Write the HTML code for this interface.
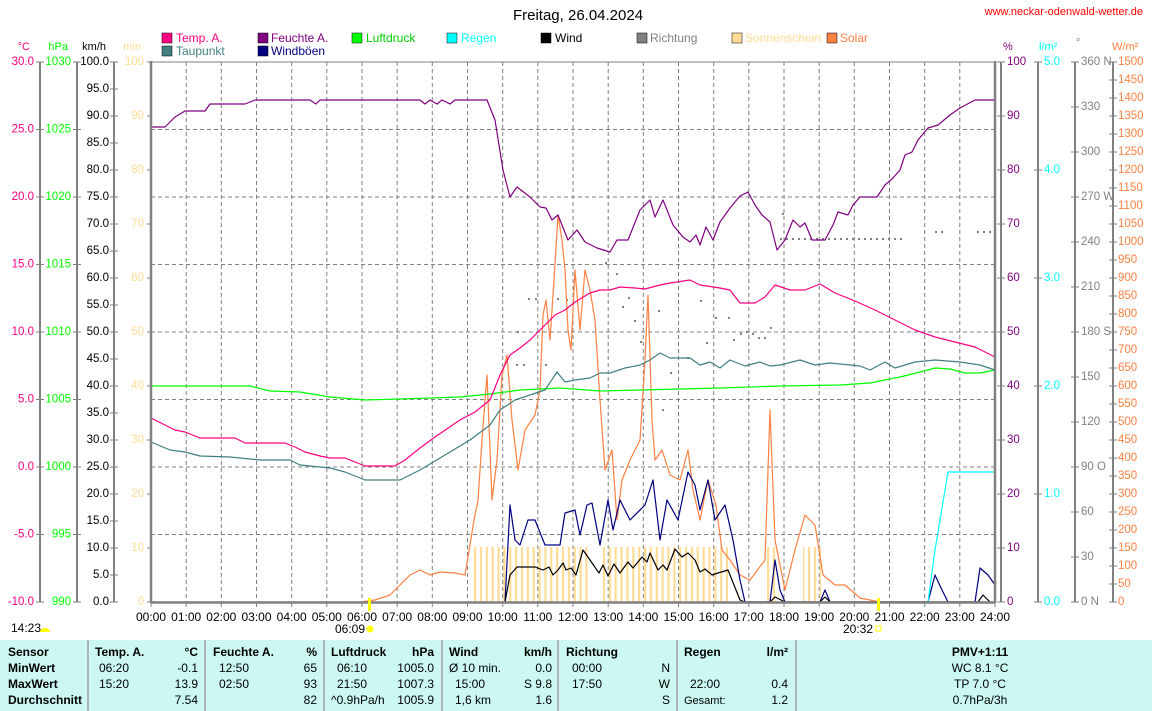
<!DOCTYPE html>
<html><head><meta charset="utf-8"><style>
html,body{margin:0;padding:0;background:#fff;}
svg{display:block;font-family:"Liberation Sans",sans-serif;}
.t{font-size:12px}
</style></head><body>
<svg width="1152" height="711" viewBox="0 0 1152 711" xmlns="http://www.w3.org/2000/svg">
<defs>
<pattern id="sun" patternUnits="userSpaceOnUse" x="474" y="0" width="5.86" height="10"><rect x="0" y="0" width="2.2" height="10" fill="#ffdc96"/></pattern>
</defs>
<text x="578" y="20" font-size="15" text-anchor="middle" fill="#000">Freitag, 26.04.2024</text>
<text x="1143" y="15" font-size="11" text-anchor="end" fill="#ff0000">www.neckar-odenwald-wetter.de</text>

<g class="t" font-size="11">
<rect x="162" y="33" width="10" height="10" fill="#ff0080" stroke="#000" stroke-width="0.5"/><text x="176" y="42" fill="#ff0080">Temp. A.</text>
<rect x="162" y="46" width="10" height="10" fill="#408080" stroke="#000" stroke-width="0.5"/><text x="176" y="55" fill="#408080">Taupunkt</text>
<rect x="258" y="33" width="10" height="10" fill="#800080" stroke="#000" stroke-width="0.5"/><text x="271" y="42" fill="#800080">Feuchte A.</text>
<rect x="258" y="46" width="10" height="10" fill="#000080" stroke="#000" stroke-width="0.5"/><text x="271" y="55" fill="#000080">Windböen</text>
<rect x="352" y="33" width="10" height="10" fill="#00ff00" stroke="#000" stroke-width="0.5"/><text x="366" y="42" fill="#00cc00">Luftdruck</text>
<rect x="447" y="33" width="10" height="10" fill="#00ffff" stroke="#000" stroke-width="0.5"/><text x="461" y="42" fill="#00ffff">Regen</text>
<rect x="541" y="33" width="10" height="10" fill="#000" stroke="#000" stroke-width="0.5"/><text x="555" y="42" fill="#000">Wind</text>
<rect x="637" y="33" width="10" height="10" fill="#808080" stroke="#000" stroke-width="0.5"/><text x="650" y="42" fill="#808080">Richtung</text>
<rect x="732" y="33" width="10" height="10" fill="#ffdc96" stroke="#000" stroke-width="0.5"/><text x="745" y="42" fill="#ffdc96">Sonnenschein</text>
<rect x="827" y="33" width="10" height="10" fill="#ff8040" stroke="#000" stroke-width="0.5"/><text x="840" y="42" fill="#ff8040">Solar</text>
</g>

<g font-size="11">
<text x="30" y="50" text-anchor="end" fill="#ff0080">°C</text>
<text x="68" y="50" text-anchor="end" fill="#00ff00">hPa</text>
<text x="106" y="50" text-anchor="end" fill="#000">km/h</text>
<text x="141" y="50" text-anchor="end" fill="#ffdc96">min</text>
<text x="1003" y="50" fill="#800080">%</text>
<text x="1039" y="50" fill="#00ffff">l/m²</text>
<text x="1076" y="46" fill="#808080">°</text>
<text x="1112" y="50" fill="#ff8040">W/m²</text>
</g>

<g stroke="#808080" stroke-width="1" stroke-dasharray="4,3" fill="none">
<path d="M151 129.5H995M151 197H995M151 264.5H995M151 332H995M151 399.5H995M151 467H995M151 534.5H995"/>
<path d="M186.2 62V602M221.3 62V602M256.5 62V602M291.7 62V602M326.8 62V602M362 62V602M397.2 62V602M432.3 62V602M467.5 62V602M502.7 62V602M537.8 62V602M573 62V602M608.2 62V602M643.3 62V602M678.5 62V602M713.7 62V602M748.8 62V602M784 62V602M819.2 62V602M854.3 62V602M889.5 62V602M924.7 62V602M959.8 62V602"/>
</g>

<rect x="474" y="547" width="114" height="55" fill="url(#sun)"/>
<rect x="603" y="547" width="125" height="55" fill="url(#sun)"/>
<rect x="767" y="547" width="12" height="55" fill="url(#sun)"/>
<rect x="803" y="547" width="18" height="55" fill="url(#sun)"/>

<g fill="#808080">
<rect x="528" y="298" width="2" height="2"/><rect x="535" y="298" width="2" height="2"/><rect x="557" y="298" width="2" height="2"/><rect x="517" y="331" width="2" height="2"/><rect x="516" y="364" width="2" height="2"/><rect x="523" y="364" width="2" height="2"/><rect x="545" y="364" width="2" height="2"/>
<rect x="566" y="299" width="2" height="2"/><rect x="605" y="262" width="2" height="2"/><rect x="616" y="273" width="2" height="2"/><rect x="628" y="297" width="2" height="2"/><rect x="622" y="306" width="2" height="2"/><rect x="634" y="320" width="2" height="2"/><rect x="658" y="310" width="2" height="2"/><rect x="640" y="341" width="2" height="2"/><rect x="670" y="372" width="2" height="2"/><rect x="662" y="409" width="2" height="2"/><rect x="687" y="357" width="2" height="2"/><rect x="700" y="300" width="2" height="2"/><rect x="706" y="342" width="2" height="2"/><rect x="715" y="317" width="2" height="2"/><rect x="728" y="317" width="2" height="2"/><rect x="733" y="339" width="2" height="2"/><rect x="740" y="333" width="2" height="2"/><rect x="746" y="331" width="2" height="2"/><rect x="752" y="333" width="2" height="2"/><rect x="758" y="337" width="2" height="2"/><rect x="764" y="337" width="2" height="2"/><rect x="770" y="327" width="2" height="2"/><rect x="782" y="213" width="2" height="2"/>
<path d="M780 238h2v2h-2zM786 238h2v2h-2zM792 238h2v2h-2zM798 238h2v2h-2zM804 238h2v2h-2zM810 238h2v2h-2zM816 238h2v2h-2zM822 238h2v2h-2zM828 238h2v2h-2zM834 238h2v2h-2zM840 238h2v2h-2zM846 238h2v2h-2zM852 238h2v2h-2zM858 238h2v2h-2zM864 238h2v2h-2zM870 238h2v2h-2zM876 238h2v2h-2zM882 238h2v2h-2zM888 238h2v2h-2zM894 238h2v2h-2zM900 238h2v2h-2zM935 231h2v2h-2zM941 231h2v2h-2zM977 231h2v2h-2zM983 231h2v2h-2zM989 231h2v2h-2z"/>
</g>

<g fill="none" stroke-width="1.2" stroke-linejoin="round">
<polyline stroke="#ff8040" points="151,602 360,602 375,600 390,595 400,585 410,575 420,570 430,575 440,572 455,573 465,575 470,545 474,520 478,500 482,440 487,375 492,500 497,460 502,375 507,355 512,420 518,470 525,430 535,415 540,390 543,315 546,300 550,340 554,280 558,215 562,240 565,270 568,330 571,350 575,270 580,330 585,270 590,290 595,320 600,400 605,470 612,450 617,520 622,480 630,460 640,440 645,360 648,295 652,420 655,460 662,450 670,475 680,480 688,450 693,490 700,520 708,480 716,505 722,550 730,560 740,575 750,580 765,560 770,410 775,540 785,590 795,550 805,515 815,525 823,575 835,585 845,585 860,598 880,602 995,602"/>
<polyline stroke="#000080" points="505,602 510,505 515,540 520,545 528,520 535,520 545,545 560,545 565,513 575,510 580,535 587,505 592,503 600,545 608,500 613,530 620,500 630,520 645,505 653,480 660,540 667,500 678,520 688,472 695,485 700,510 708,480 715,520 725,505 733,540 740,580 745,602 770,602 775,560 780,590 785,602 820,602 825,590 830,602 928,602 935,575 942,590 948,602 975,602 980,568 988,575 995,585"/>
<polyline stroke="#000" points="505,602 510,575 517,567 525,567 531,567 535,567 543,570 549,567 553,575 558,570 563,563 566,570 571,568 576,575 583,550 590,560 599,573 603,565 608,576 614,564 620,573 628,562 633,568 642,557 647,562 650,553 658,570 663,565 667,570 675,549 682,557 688,553 695,560 700,572 705,569 712,575 718,573 728,570 740,600 745,602 770,602 775,597 785,602 820,602 825,597 830,602 978,602 983,595 990,602"/>
<polyline stroke="#00ffff" points="928,602 935,550 940,520 948,472 995,472"/>
<polyline stroke="#00ff00" points="151,386 250,386 270,391 300,392 330,397 365,400 400,399 430,398 460,397 490,394 520,390 560,388 600,391 640,390 680,389 720,388 780,386 840,385 870,383 900,377 920,372 935,368 950,369 965,373 980,373 995,370"/>
<polyline stroke="#408080" points="151,442 170,450 185,452 200,456 230,457 260,460 290,460 300,465 330,468 345,472 365,480 400,480 420,470 440,458 470,440 490,425 500,410 515,400 530,395 545,390 557,372 565,382 575,380 590,378 600,373 610,373 625,368 640,365 650,360 660,353 670,358 690,358 700,365 710,362 720,368 730,360 745,366 760,362 770,366 780,365 800,360 815,365 830,363 850,365 860,366 870,370 885,362 895,368 915,362 935,360 960,362 980,365 995,370"/>
<polyline stroke="#ff0080" points="151,418 165,425 175,430 185,432 200,438 235,438 245,443 285,443 295,447 305,452 320,456 330,458 345,458 355,462 365,466 395,466 405,460 420,448 435,437 460,420 475,412 490,400 500,375 510,355 520,348 530,340 545,325 555,315 565,310 575,302 590,293 600,290 610,290 620,287 635,288 645,289 660,285 670,283 690,280 700,285 720,288 730,290 740,303 755,303 765,297 775,285 790,290 805,290 820,284 835,293 855,301 875,310 895,320 915,330 935,337 955,342 975,347 995,357"/>
<polyline stroke="#800080" points="151,127 165,127 175,117 185,111 205,111 210,104 245,104 255,100 310,100 316,104 320,100 420,100 425,104 430,100 437,104 442,100 450,104 455,100 487,100 495,120 503,170 510,197 517,187 530,197 540,207 546,208 552,220 558,215 568,240 577,230 585,242 597,248 610,252 617,240 628,240 640,210 647,203 650,200 655,217 663,200 673,225 683,237 690,242 696,235 700,245 706,227 713,240 720,222 730,208 740,196 748,192 755,205 762,215 770,222 777,250 785,240 793,220 800,227 805,223 812,240 825,240 833,225 838,212 848,215 853,205 860,197 877,197 885,185 893,178 900,170 905,155 912,152 918,140 928,128 938,125 950,115 960,108 975,100 995,100"/>
</g>

<g stroke="#808080" fill="none">
<path d="M151 61V603M995 61V603M151 602.5H995" stroke-width="2.5"/>
<path d="M151 62H995" stroke-width="1"/>
<path d="M40 62V602M77 62V602M114 62V602M1001 62V602M1038 62V602M1075 62V602M1113 62V602" stroke-width="2"/>
</g>
<g stroke="#808080" stroke-width="1">
<path d="M36 62H44M36 129.5H44M36 197H44M36 264.5H44M36 332H44M36 399.5H44M36 467H44M36 534.5H44M36 602H44"/>
<path d="M73 62H81M73 129.5H81M73 197H81M73 264.5H81M73 332H81M73 399.5H81M73 467H81M73 534.5H81M73 602H81"/>
<path d="M110 62H118M110 89H118M110 116H118M110 143H118M110 170H118M110 197H118M110 224H118M110 251H118M110 278H118M110 305H118M110 332H118M110 359H118M110 386H118M110 413H118M110 440H118M110 467H118M110 494H118M110 521H118M110 548H118M110 575H118M110 602H118"/>
<path d="M147 62H151M147 116H151M147 170H151M147 224H151M147 278H151M147 332H151M147 386H151M147 440H151M147 494H151M147 548H151M147 602H151"/>
<path d="M997 62H1005M997 116H1005M997 170H1005M997 224H1005M997 278H1005M997 332H1005M997 386H1005M997 440H1005M997 494H1005M997 548H1005M997 602H1005"/>
<path d="M1034 62H1042M1034 170H1042M1034 278H1042M1034 386H1042M1034 494H1042M1034 602H1042"/>
<path d="M1071 62H1079M1071 107H1079M1071 152H1079M1071 197H1079M1071 242H1079M1071 287H1079M1071 332H1079M1071 377H1079M1071 422H1079M1071 467H1079M1071 512H1079M1071 557H1079M1071 602H1079"/>
<path d="M1109 62H1117M1109 80H1117M1109 98H1117M1109 116H1117M1109 134H1117M1109 152H1117M1109 170H1117M1109 188H1117M1109 206H1117M1109 224H1117M1109 242H1117M1109 260H1117M1109 278H1117M1109 296H1117M1109 314H1117M1109 332H1117M1109 350H1117M1109 368H1117M1109 386H1117M1109 404H1117M1109 422H1117M1109 440H1117M1109 458H1117M1109 476H1117M1109 494H1117M1109 512H1117M1109 530H1117M1109 548H1117M1109 566H1117M1109 584H1117M1109 602H1117"/>
<path d="M151 602V607M186.2 602V607M221.3 602V607M256.5 602V607M291.7 602V607M326.8 602V607M362 602V607M397.2 602V607M432.3 602V607M467.5 602V607M502.7 602V607M537.8 602V607M573 602V607M608.2 602V607M643.3 602V607M678.5 602V607M713.7 602V607M748.8 602V607M784 602V607M819.2 602V607M854.3 602V607M889.5 602V607M924.7 602V607M959.8 602V607M995 602V607"/>
</g>

<g font-size="11.5" dominant-baseline="middle">
<g fill="#ff0080" text-anchor="end"><text x="34" y="62">30.0</text><text x="34" y="129.5">25.0</text><text x="34" y="197">20.0</text><text x="34" y="264.5">15.0</text><text x="34" y="332">10.0</text><text x="34" y="399.5">5.0</text><text x="34" y="467">0.0</text><text x="34" y="534.5">-5.0</text><text x="34" y="602">-10.0</text></g>
<g fill="#00ff00" text-anchor="end"><text x="71" y="62">1030</text><text x="71" y="129.5">1025</text><text x="71" y="197">1020</text><text x="71" y="264.5">1015</text><text x="71" y="332">1010</text><text x="71" y="399.5">1005</text><text x="71" y="467">1000</text><text x="71" y="534.5">995</text><text x="71" y="602">990</text></g>
<g fill="#000" text-anchor="end"><text x="109" y="62">100.0</text><text x="109" y="89">95.0</text><text x="109" y="116">90.0</text><text x="109" y="143">85.0</text><text x="109" y="170">80.0</text><text x="109" y="197">75.0</text><text x="109" y="224">70.0</text><text x="109" y="251">65.0</text><text x="109" y="278">60.0</text><text x="109" y="305">55.0</text><text x="109" y="332">50.0</text><text x="109" y="359">45.0</text><text x="109" y="386">40.0</text><text x="109" y="413">35.0</text><text x="109" y="440">30.0</text><text x="109" y="467">25.0</text><text x="109" y="494">20.0</text><text x="109" y="521">15.0</text><text x="109" y="548">10.0</text><text x="109" y="575">5.0</text><text x="109" y="602">0.0</text></g>
<g fill="#ffdc96" text-anchor="end"><text x="144" y="62">100</text><text x="144" y="116">90</text><text x="144" y="170">80</text><text x="144" y="224">70</text><text x="144" y="278">60</text><text x="144" y="332">50</text><text x="144" y="386">40</text><text x="144" y="440">30</text><text x="144" y="494">20</text><text x="144" y="548">10</text><text x="144" y="602">0</text></g>
<g fill="#800080"><text x="1007" y="62">100</text><text x="1007" y="116">90</text><text x="1007" y="170">80</text><text x="1007" y="224">70</text><text x="1007" y="278">60</text><text x="1007" y="332">50</text><text x="1007" y="386">40</text><text x="1007" y="440">30</text><text x="1007" y="494">20</text><text x="1007" y="548">10</text><text x="1007" y="602">0</text></g>
<g fill="#00ffff"><text x="1044" y="62">5.0</text><text x="1044" y="170">4.0</text><text x="1044" y="278">3.0</text><text x="1044" y="386">2.0</text><text x="1044" y="494">1.0</text><text x="1044" y="602">0.0</text></g>
<g fill="#808080"><text x="1081" y="62">360 N</text><text x="1081" y="107">330</text><text x="1081" y="152">300</text><text x="1081" y="197">270 W</text><text x="1081" y="242">240</text><text x="1081" y="287">210</text><text x="1081" y="332">180 S</text><text x="1081" y="377">150</text><text x="1081" y="422">120</text><text x="1081" y="467">90  O</text><text x="1081" y="512">60</text><text x="1081" y="557">30</text><text x="1081" y="602">0   N</text></g>
<g fill="#ff8040"><text x="1118" y="62">1500</text><text x="1118" y="80">1450</text><text x="1118" y="98">1400</text><text x="1118" y="116">1350</text><text x="1118" y="134">1300</text><text x="1118" y="152">1250</text><text x="1118" y="170">1200</text><text x="1118" y="188">1150</text><text x="1118" y="206">1100</text><text x="1118" y="224">1050</text><text x="1118" y="242">1000</text><text x="1118" y="260">950</text><text x="1118" y="278">900</text><text x="1118" y="296">850</text><text x="1118" y="314">800</text><text x="1118" y="332">750</text><text x="1118" y="350">700</text><text x="1118" y="368">650</text><text x="1118" y="386">600</text><text x="1118" y="404">550</text><text x="1118" y="422">500</text><text x="1118" y="440">450</text><text x="1118" y="458">400</text><text x="1118" y="476">350</text><text x="1118" y="494">300</text><text x="1118" y="512">250</text><text x="1118" y="530">200</text><text x="1118" y="548">150</text><text x="1118" y="566">100</text><text x="1118" y="584">50</text><text x="1118" y="602">0</text></g>
</g>

<g font-size="12" text-anchor="middle" fill="#000">
<text x="151" y="621">00:00</text><text x="186.2" y="621">01:00</text><text x="221.3" y="621">02:00</text><text x="256.5" y="621">03:00</text><text x="291.7" y="621">04:00</text><text x="326.8" y="621">05:00</text><text x="362" y="621">06:00</text><text x="397.2" y="621">07:00</text><text x="432.3" y="621">08:00</text><text x="467.5" y="621">09:00</text><text x="502.7" y="621">10:00</text><text x="537.8" y="621">11:00</text><text x="573" y="621">12:00</text><text x="608.2" y="621">13:00</text><text x="643.3" y="621">14:00</text><text x="678.5" y="621">15:00</text><text x="713.7" y="621">16:00</text><text x="748.8" y="621">17:00</text><text x="784" y="621">18:00</text><text x="819.2" y="621">19:00</text><text x="854.3" y="621">20:00</text><text x="889.5" y="621">21:00</text><text x="924.7" y="621">22:00</text><text x="959.8" y="621">23:00</text><text x="995" y="621">24:00</text>
<text x="350" y="633">06:09</text><text x="858" y="633">20:32</text>
</g>
<rect x="368" y="598" width="3" height="13" fill="#ffff00"/>
<rect x="877" y="598" width="3" height="13" fill="#ffff00"/>
<circle cx="370" cy="629" r="3.5" fill="#ffff00"/>
<rect x="876" y="626" width="5" height="5" fill="none" stroke="#ffff00"/>
<text x="11" y="632" font-size="12" fill="#000">14:23</text>
<path d="M40 632a5 4 0 0 1 10 0z" fill="#ffff00"/>

<rect x="0" y="640" width="1152" height="71" fill="#ccf8f4"/>
<g stroke="#a0a0a0" stroke-width="1.5"><path d="M88 640V711M205 640V711M324 640V711M442 640V711M558 640V711M677 640V711M796 640V711"/></g>
<g font-size="12" fill="#000">
<g font-weight="bold"><text x="8" y="656">Sensor</text><text x="8" y="672">MinWert</text><text x="8" y="688">MaxWert</text><text x="8" y="704">Durchschnitt</text>
<text x="95" y="656">Temp. A.</text><text x="213" y="656">Feuchte A.</text><text x="331" y="656">Luftdruck</text><text x="449" y="656">Wind</text><text x="566" y="656">Richtung</text><text x="684" y="656">Regen</text><text x="980" y="656" text-anchor="middle">PMV+1:11</text>
<g text-anchor="end"><text x="198" y="656">°C</text><text x="317" y="656">%</text><text x="434" y="656">hPa</text><text x="552" y="656">km/h</text><text x="788" y="656">l/m²</text></g></g>
<text x="99" y="672">06:20</text><text x="99" y="688">15:20</text>
<g text-anchor="end"><text x="198" y="672">-0.1</text><text x="198" y="688">13.9</text><text x="198" y="704">7.54</text></g>
<text x="219" y="672">12:50</text><text x="219" y="688">02:50</text>
<g text-anchor="end"><text x="317" y="672">65</text><text x="317" y="688">93</text><text x="317" y="704">82</text></g>
<text x="337" y="672">06:10</text><text x="337" y="688">21:50</text><text x="331" y="704">^0.9hPa/h</text>
<g text-anchor="end"><text x="434" y="672">1005.0</text><text x="434" y="688">1007.3</text><text x="434" y="704">1005.9</text></g>
<text x="449" y="672">Ø 10 min.</text><text x="455" y="688">15:00</text><text x="455" y="704">1,6 km</text>
<g text-anchor="end"><text x="552" y="672">0.0</text><text x="552" y="688">S 9.8</text><text x="552" y="704">1.6</text></g>
<text x="572" y="672">00:00</text><text x="572" y="688">17:50</text>
<g text-anchor="end"><text x="670" y="672">N</text><text x="670" y="688">W</text><text x="670" y="704">S</text></g>
<text x="690" y="688">22:00</text><text x="684" y="704" font-size="11">Gesamt:</text>
<g text-anchor="end"><text x="788" y="688">0.4</text><text x="788" y="704">1.2</text></g>
<g text-anchor="middle"><text x="980" y="672">WC 8.1 °C</text><text x="980" y="688">TP 7.0 °C</text><text x="980" y="704">0.7hPa/3h</text></g>
</g>
</svg>
</body></html>
